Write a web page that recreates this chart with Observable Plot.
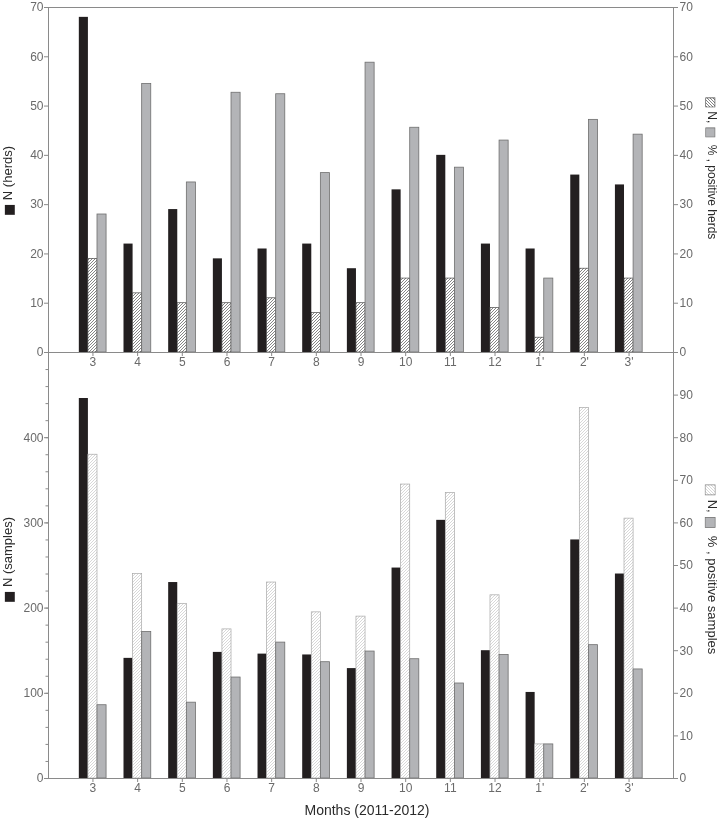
<!DOCTYPE html>
<html>
<head>
<meta charset="utf-8">
<script src="https://cdn.jsdelivr.net/npm/d3@7"></script>
<script src="https://cdn.jsdelivr.net/npm/@observablehq/plot@0.6"></script>
<style>
  html, body { margin: 0; padding: 0; background: #fff; }
  #chart { position: relative; width: 720px; height: 821px; font-family: "Liberation Sans", Arial, sans-serif; }
  #chart svg { position: absolute; left: 0; will-change: transform; }
</style>
</head>
<body>
<div id="chart"></div>
<script>
// ---------- data ----------
const months = ["3", "4", "5", "6", "7", "8", "9", "10", "11", "12", "1'", "2'", "3'"];

// top panel: herds
const herdsN   = [68, 22, 29, 19, 21, 22, 17, 33, 40, 22, 21, 36, 34];
const herdsPos = [19, 12, 10, 10, 11, 8, 10, 15, 15, 9, 3, 17, 15];
const herdsPct = [28, 54.5, 34.5, 52.7, 52.4, 36.4, 58.8, 45.6, 37.5, 43, 15, 47.2, 44.2];
const herdTicks = [0, 10, 20, 30, 40, 50, 60, 70];

// bottom panel: samples
const samplesN   = [446, 141, 230, 148, 146, 145, 129, 247, 303, 150, 101, 280, 240];
const samplesPos = [76, 48, 41, 35, 46, 39, 38, 69, 67, 43, 8, 87, 61];
const samplesPct = [17.2, 34.4, 17.8, 23.7, 31.9, 27.3, 29.8, 28, 22.3, 29, 8, 31.3, 25.6];
const sampleLeftTicks  = [0, 100, 200, 300, 400];
const sampleMinorTicks = d3.range(0, 501, 20);
const sampleRightTicks = [0, 10, 20, 30, 40, 50, 60, 70, 80, 90];
const sampleLeftMax = 500, sampleRightMax = 100;

const labels = {
  topLeft: "N (herds)",
  bottomLeft: "N (samples)",
  topRight: ["N, ", "  % , positive herds"],
  bottomRight: ["N, ", "  % , positive samples"],
  x: "Months (2011-2012)"
};

// ---------- layout ----------
const W = 720, ML = 48, MR = 47;
const PI = 0.39, PO = 0.69;
const step = (W - ML - MR) / (months.length - PI + 2 * PO);
const third = step * (1 - PI) / 3;
const ratio = sampleLeftMax / sampleRightMax;

const AXIS = "#8a8a8a", TEXT = "#6a6a6a", DARK = "#2b2b2b";
const BLACK = "#231f20", GRAY = "#b3b4b7", GRAYSTROKE = "#6f6f6f";
const FONT = "Liberation Sans, Arial, sans-serif";

const xScale = {type: "band", domain: months, paddingInner: PI, paddingOuter: PO, align: 0.5, round: false};
const baseStyle = {background: "transparent", fontFamily: FONT, fontSize: "12px", color: TEXT, overflow: "visible"};

function addDefs(svg, id, lineColor, width) {
  const defs = d3.select(svg).insert("defs", ":first-child");
  const p = defs.append("pattern").attr("id", id).attr("patternUnits", "userSpaceOnUse")
    .attr("width", 3).attr("height", 3);
  p.append("rect").attr("width", 3).attr("height", 3).attr("fill", "#fff");
  p.append("path").attr("d", "M-0.75,0.75 l1.5,-1.5 M0,3 l3,-3 M2.25,3.75 l1.5,-1.5")
    .attr("stroke", lineColor).attr("stroke-width", width).attr("fill", "none");
}

function leftLabel(svg, x, y, text, size) {
  const t = d3.select(svg).append("text")
    .attr("transform", `translate(${x},${y}) rotate(-90)`)
    .attr("text-anchor", "middle").attr("dominant-baseline", "middle")
    .attr("font-size", size).attr("fill", DARK).attr("font-family", FONT);
  t.append("tspan").attr("fill", BLACK).attr("font-family", "DejaVu Sans").attr("font-size", size).text("■");
  t.append("tspan").text(" " + text);
}

function rightLabel(svg, x, y, parts, size, hatchId, hatchStroke) {
  const t = d3.select(svg).append("text")
    .attr("transform", `translate(${x},${y}) rotate(90)`)
    .attr("text-anchor", "middle").attr("dominant-baseline", "middle")
    .attr("font-size", size).attr("fill", DARK).attr("font-family", FONT);
  t.append("tspan").attr("fill", `url(#${hatchId})`).attr("stroke", hatchStroke).attr("stroke-width", 0.6).attr("font-family", "DejaVu Sans").attr("font-size", size).text("■");
  t.append("tspan").text(" " + parts[0]);
  t.append("tspan").attr("fill", GRAY).attr("stroke", GRAYSTROKE).attr("stroke-width", 0.6).attr("font-family", "DejaVu Sans").attr("font-size", size).text("■");
  t.append("tspan").text(parts[1]);
}

// ---------- top panel ----------
const topPlot = Plot.plot({
  width: W, height: 372,
  marginLeft: ML, marginRight: MR, marginTop: 7, marginBottom: 20,
  style: baseStyle,
  x: xScale,
  y: {domain: [0, 70]},
  marks: [
    Plot.barY(herdsN, {x: months, y: d => d, fill: BLACK, insetRight: 2 * third}),
    Plot.barY(herdsPos, {x: months, y: d => d, fill: "url(#hatchTop)", stroke: "#4a4a4a", strokeWidth: 0.7, insetLeft: third, insetRight: third}),
    Plot.barY(herdsPct, {x: months, y: d => d, fill: GRAY, stroke: GRAYSTROKE, strokeWidth: 0.8, insetLeft: 2 * third}),
    Plot.frame({stroke: AXIS}),
    Plot.axisY({anchor: "left", ticks: herdTicks, tickSize: 4, tickPadding: 1, label: null, stroke: AXIS, fill: TEXT}),
    Plot.axisY({anchor: "right", ticks: herdTicks, tickSize: 4, tickPadding: 2, label: null, stroke: AXIS, fill: TEXT}),
    Plot.axisX({anchor: "bottom", tickSize: 4, tickPadding: 1, label: null, stroke: AXIS, fill: TEXT})
  ]
});
addDefs(topPlot, "hatchTop", "#333", 0.6);
leftLabel(topPlot, 9, 181, labels.topLeft, 13);
rightLabel(topPlot, 711, 168, labels.topRight, 12, "hatchTop", "#444");
topPlot.style.top = "0px";

// ---------- bottom panel ----------
const bottomPlot = Plot.plot({
  width: W, height: 481,
  marginLeft: ML, marginRight: MR, marginTop: 12, marginBottom: 43,
  style: baseStyle,
  x: xScale,
  y: {domain: [0, sampleLeftMax]},
  marks: [
    Plot.barY(samplesN, {x: months, y: d => d, fill: BLACK, insetRight: 2 * third}),
    Plot.barY(samplesPos, {x: months, y: d => d * ratio, fill: "url(#hatchBottom)", stroke: "#a8a8a8", strokeWidth: 0.7, insetLeft: third, insetRight: third}),
    Plot.barY(samplesPct, {x: months, y: d => d * ratio, fill: GRAY, stroke: GRAYSTROKE, strokeWidth: 0.8, insetLeft: 2 * third}),
    Plot.frame({stroke: AXIS}),
    Plot.axisY({anchor: "left", ticks: sampleMinorTicks, tickSize: 2.5, tickFormat: () => "", label: null, stroke: AXIS}),
    Plot.axisY({anchor: "left", ticks: sampleLeftTicks, tickSize: 4, tickPadding: 1, label: null, stroke: AXIS, fill: TEXT}),
    Plot.axisY({anchor: "right", ticks: sampleRightTicks.map(v => v * ratio), tickFormat: d => d / ratio, tickSize: 4, tickPadding: 2, label: null, stroke: AXIS, fill: TEXT}),
    Plot.axisX({anchor: "bottom", tickSize: 4, tickPadding: 1, label: null, stroke: AXIS, fill: TEXT}),
    Plot.text([labels.x], {text: d => d, frameAnchor: "bottom", dy: 36, dx: 6, fontSize: 14, fill: DARK})
  ]
});
addDefs(bottomPlot, "hatchBottom", "#bdbdbd", 0.6);
leftLabel(bottomPlot, 9, 220, labels.bottomLeft, 13);
rightLabel(bottomPlot, 711, 229, labels.bottomRight, 13, "hatchBottom", "#888");
bottomPlot.style.top = "340px";

const chart = document.getElementById("chart");
chart.appendChild(topPlot);
chart.appendChild(bottomPlot);
</script>
</body>
</html>
